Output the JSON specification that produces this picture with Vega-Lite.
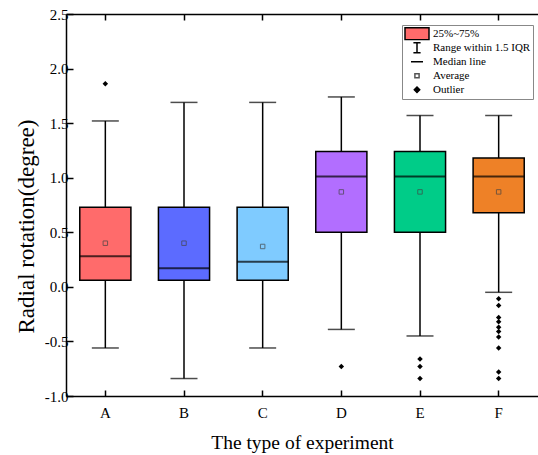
{
  "$schema": "https://vega.github.io/schema/vega-lite/v6.json",
  "width": 472,
  "height": 382,
  "autosize": {"type": "none"},
  "padding": {"left": 66, "top": 14, "right": 0, "bottom": 59},
  "background": "white",
  "config": {"view": {"stroke": null}, "font": "Liberation Serif", "legend": {"symbolOpacity": 1, "symbolFillColor": "transparent"}},
  "datasets": {
    "boxes": [
      {"type": "A", "lower": -0.56, "q1": 0.06, "median": 0.28, "mean": 0.40, "q3": 0.73, "upper": 1.52},
      {"type": "B", "lower": -0.84, "q1": 0.06, "median": 0.17, "mean": 0.40, "q3": 0.73, "upper": 1.69},
      {"type": "C", "lower": -0.56, "q1": 0.06, "median": 0.23, "mean": 0.37, "q3": 0.73, "upper": 1.69},
      {"type": "D", "lower": -0.39, "q1": 0.50, "median": 1.01, "mean": 0.87, "q3": 1.24, "upper": 1.74},
      {"type": "E", "lower": -0.45, "q1": 0.50, "median": 1.01, "mean": 0.87, "q3": 1.24, "upper": 1.57},
      {"type": "F", "lower": -0.05, "q1": 0.68, "median": 1.01, "mean": 0.87, "q3": 1.18, "upper": 1.57}
    ],
    "outliers": [
      {"type": "A", "value": 1.86},
      {"type": "D", "value": -0.73},
      {"type": "E", "value": -0.66},
      {"type": "E", "value": -0.73},
      {"type": "E", "value": -0.84},
      {"type": "F", "value": -0.11},
      {"type": "F", "value": -0.17},
      {"type": "F", "value": -0.28},
      {"type": "F", "value": -0.32},
      {"type": "F", "value": -0.37},
      {"type": "F", "value": -0.41},
      {"type": "F", "value": -0.46},
      {"type": "F", "value": -0.56},
      {"type": "F", "value": -0.78},
      {"type": "F", "value": -0.84}
    ],
    "legendItems": [
      {"item": "25%~75%"},
      {"item": "Range within 1.5 IQR"},
      {"item": "Median line"},
      {"item": "Average"},
      {"item": "Outlier"}
    ]
  },
  "layer": [
    {
      "data": {"name": "boxes"},
      "mark": {"type": "rule", "color": "black", "strokeWidth": 1.5},
      "encoding": {
        "x": {
          "field": "type", "type": "nominal",
          "scale": {"domain": ["A", "B", "C", "D", "E", "F"], "paddingInner": 0.35, "paddingOuter": 0.175},
          "axis": {
            "orient": "bottom", "labelAngle": 0, "bandPosition": 0.5,
            "tickSize": -6, "tickWidth": 1.5, "tickColor": "black",
            "domainColor": "black", "domainWidth": 1.5,
            "labelFont": "Liberation Serif", "labelFontSize": 15, "labelColor": "black", "labelPadding": 15,
            "title": "The type of experiment", "titleFont": "Liberation Serif", "titleFontSize": 19.5,
            "titleFontWeight": "normal", "titleColor": "black", "titleY": 46, "titleBaseline": "middle"
          }
        },
        "y": {
          "field": "lower", "type": "quantitative",
          "scale": {"domain": [-1, 2.5], "nice": false, "zero": false},
          "axis": {
            "orient": "left",
            "values": [-1, -0.75, -0.5, -0.25, 0, 0.25, 0.5, 0.75, 1, 1.25, 1.5, 1.75, 2, 2.25, 2.5],
            "labelExpr": "abs(datum.value*2 - round(datum.value*2)) < 0.001 ? replace(format(datum.value, '.1f'), '\u2212', '-') : ''",
            "labelOverlap": false, "grid": false,
            "tickSize": -7, "tickWidth": 1.5, "tickColor": "black",
            "domainColor": "black", "domainWidth": 1.5,
            "labelFont": "Liberation Serif", "labelFontSize": 15, "labelColor": "black", "labelPadding": 5,
            "title": "Radial rotation(degree)", "titleFont": "Liberation Serif", "titleFontSize": 23,
            "titleFontWeight": "normal", "titleColor": "black",
            "titleX": -40, "titleY": 212, "titleBaseline": "middle", "titleAlign": "center", "titleAngle": -90
          }
        },
        "y2": {"field": "upper"}
      }
    },
    {
      "data": {"name": "boxes"},
      "mark": {"type": "tick", "color": "black", "size": 27, "thickness": 1.5},
      "encoding": {
        "x": {
          "field": "type", "type": "nominal",
          "axis": {"orient": "top", "labels": false, "title": null, "bandPosition": 0.5,
                   "tickSize": -6, "tickWidth": 1.5, "tickColor": "black",
                   "domainColor": "black", "domainWidth": 1.5}
        },
        "y": {"field": "upper", "type": "quantitative"}
      }
    },
    {
      "data": {"name": "boxes"},
      "mark": {"type": "tick", "color": "black", "size": 27, "thickness": 1.5},
      "encoding": {
        "x": {"field": "type", "type": "nominal", "axis": null},
        "y": {"field": "lower", "type": "quantitative"}
      }
    },
    {
      "data": {"name": "boxes"},
      "mark": {"type": "bar", "stroke": "black", "strokeWidth": 1.5},
      "encoding": {
        "x": {"field": "type", "type": "nominal", "axis": null},
        "y": {"field": "q1", "type": "quantitative"},
        "y2": {"field": "q3"},
        "fill": {
          "field": "type", "type": "nominal",
          "scale": {"domain": ["A", "B", "C", "D", "E", "F"],
                    "range": ["#FF6B6B", "#5C6BFF", "#7FCBFF", "#B26EFF", "#00CC88", "#EE8127"]},
          "legend": null
        }
      }
    },
    {
      "data": {"name": "boxes"},
      "mark": {"type": "tick", "color": "black", "thickness": 2},
      "encoding": {
        "x": {"field": "type", "type": "nominal", "axis": null},
        "y": {"field": "median", "type": "quantitative"}
      }
    },
    {
      "data": {"name": "boxes"},
      "mark": {"type": "point", "shape": "square", "size": 20, "filled": false, "stroke": "#444", "strokeWidth": 1},
      "encoding": {
        "x": {"field": "type", "type": "nominal", "axis": null},
        "y": {"field": "mean", "type": "quantitative"}
      }
    },
    {
      "data": {"name": "outliers"},
      "mark": {"type": "point", "shape": "diamond", "size": 30, "filled": true, "color": "black", "opacity": 1},
      "encoding": {
        "x": {"field": "type", "type": "nominal", "axis": null},
        "y": {"field": "value", "type": "quantitative"}
      }
    },
    {
      "data": {"name": "legendItems"},
      "mark": {"type": "point", "filled": true, "opacity": 0, "strokeWidth": 1.5},
      "encoding": {
        "shape": {
          "field": "item", "type": "nominal",
          "scale": {
            "domain": ["25%~75%", "Range within 1.5 IQR", "Median line", "Average", "Outlier"],
            "range": ["M-1,-1H3V1H-1Z", "M0.4,-0.85H1.6M1,-0.85V0.85M0.4,0.85H1.6", "M0,0H2", "M0.65,-0.35H1.35V0.35H0.65Z", "M1,-0.45L1.45,0L1,0.45L0.55,0Z"]
          },
          "legend": {
            "title": null, "orient": "none", "legendX": 336, "legendY": 11,
            "padding": 2, "strokeColor": "#888", "fillColor": "white",
            "symbolSize": 144, "symbolStrokeWidth": 1.5, "labelOffset": 15, "rowPadding": 0,
            "clipHeight": 13.5, "symbolOpacity": 1, "symbolFillColor": "transparent",
            "labelFont": "Liberation Serif", "labelFontSize": 11, "labelColor": "black",
            "labelLimit": 200
          }
        },
        "fill": {
          "field": "item", "type": "nominal",
          "scale": {
            "domain": ["25%~75%", "Range within 1.5 IQR", "Median line", "Average", "Outlier"],
            "range": ["#FF6B6B", "transparent", "transparent", "#ffffff", "#000000"]
          }
        },
        "stroke": {
          "field": "item", "type": "nominal",
          "scale": {
            "domain": ["25%~75%", "Range within 1.5 IQR", "Median line", "Average", "Outlier"],
            "range": ["#000000", "#000000", "#000000", "#555555", "#000000"]
          }
        }
      }
    }
  ],
  "resolve": {
    "scale": {"fill": "independent", "stroke": "independent", "shape": "independent"},
    "axis": {"x": "independent"}
  }
}
